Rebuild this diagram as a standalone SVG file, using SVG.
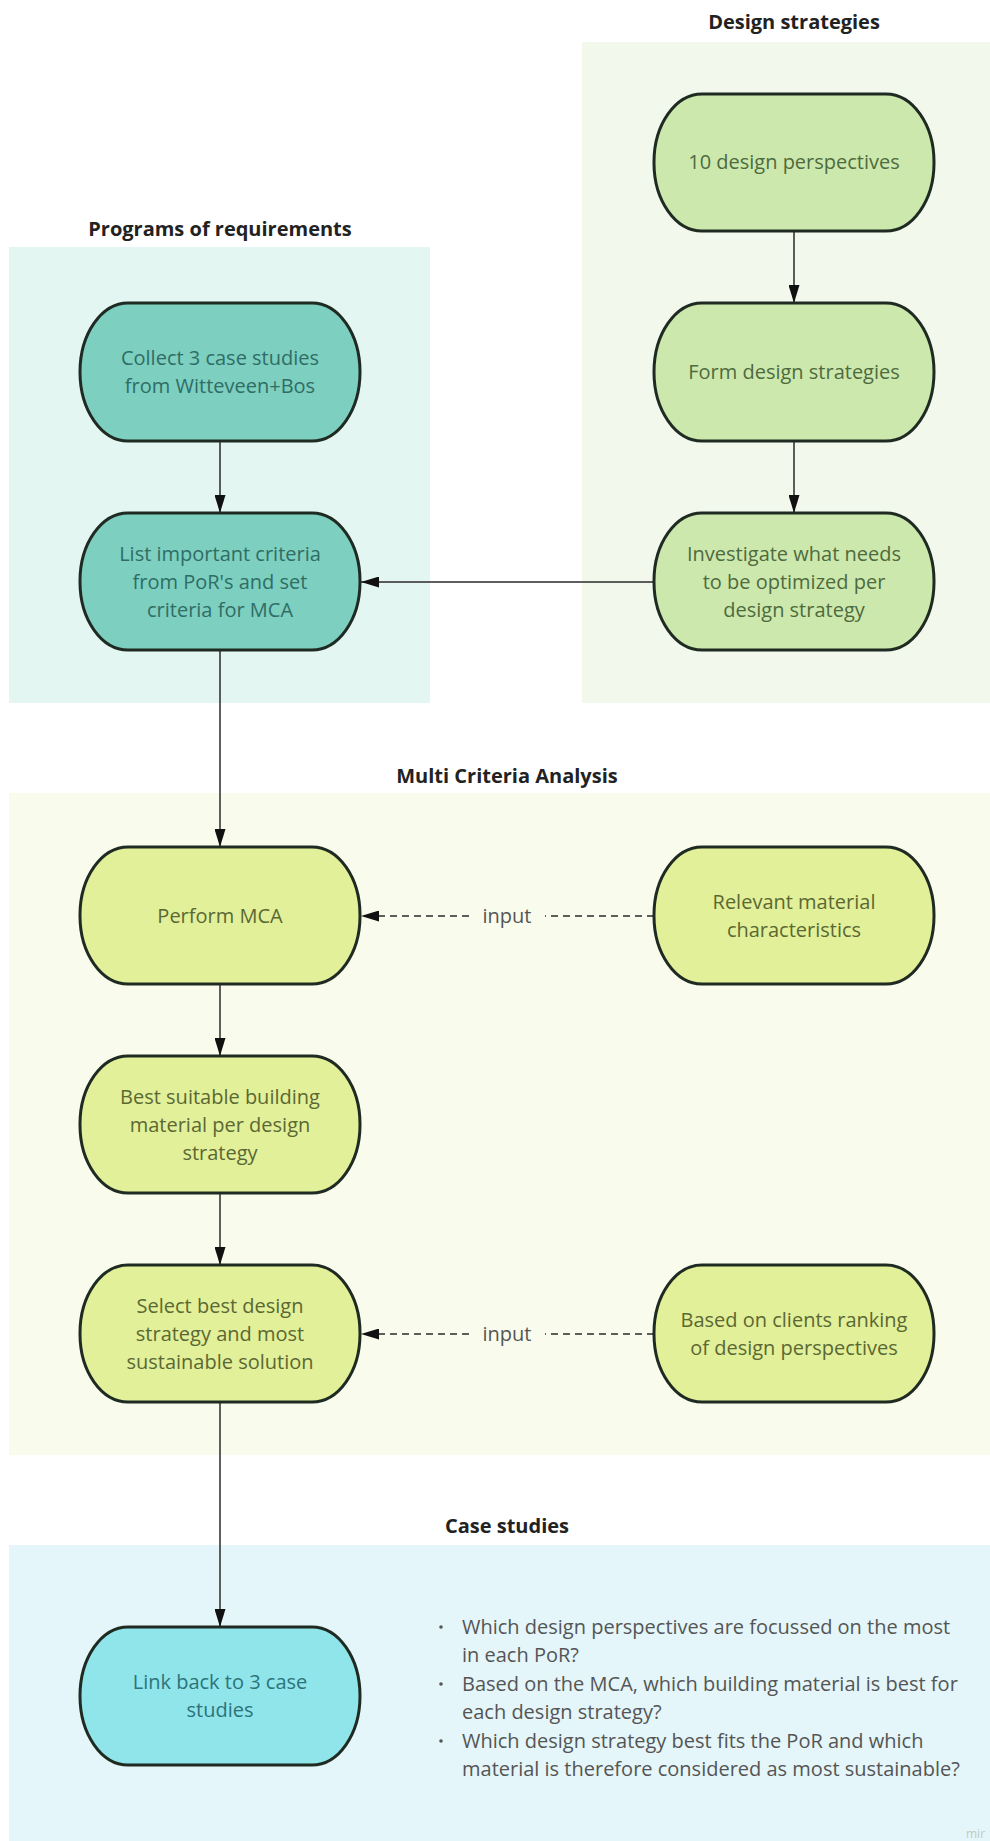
<svg xmlns="http://www.w3.org/2000/svg" width="990" height="1841" viewBox="0 0 990 1841">
<defs>
<style>
.title{font-family:"Open Sans","Liberation Sans",sans-serif;font-weight:bold;font-size:20px;fill:#222;text-anchor:middle}
.nt{font-family:"Open Sans","Liberation Sans",sans-serif;font-size:20px;text-anchor:middle}
.node{stroke:#1f2b22;stroke-width:3}
.teal{fill:#7dcfc0}.tealt{fill:#2f6d65}
.grn{fill:#cde8ad}.grnt{fill:#4d6b3e}
.yel{fill:#e2f099}.yelt{fill:#5b6833}
.cyan{fill:#8fe5e9}.cyant{fill:#2d7379}
.edge{stroke:#2a2a2a;stroke-width:1.5;fill:none}
.dash{stroke-dasharray:7 5}
.lbl{font-family:"Open Sans","Liberation Sans",sans-serif;font-size:20px;fill:#555;text-anchor:middle}
.bul{font-family:"Open Sans","Liberation Sans",sans-serif;font-size:20px;fill:#555}
</style>
<marker id="ah" viewBox="0 0 18 11" refX="18" refY="5.5" markerWidth="18" markerHeight="11" markerUnits="userSpaceOnUse" orient="auto">
<path d="M0,0 L18,5.5 L0,11 z" fill="#111"/>
</marker>
</defs>
<rect width="990" height="1841" fill="#ffffff"/>

<g id="panels">
<rect x="9" y="247" width="421" height="456" fill="#e3f6f2"/>
<rect x="582" y="42" width="408" height="661" fill="#f2f8ec"/>
<rect x="9" y="793" width="981" height="662" fill="#f9fcec"/>
<rect x="9" y="1545" width="981" height="296" fill="#e4f6f9"/>
</g>

<g id="titles">
<text class="title" x="794" y="29">Design strategies</text>
<text class="title" x="220" y="236">Programs of requirements</text>
<text class="title" x="507" y="783">Multi Criteria Analysis</text>
<text class="title" x="507" y="1533">Case studies</text>
</g>

<g id="connectors">
<line class="edge" x1="794" y1="231" x2="794" y2="303" marker-end="url(#ah)"/>
<line class="edge" x1="794" y1="441" x2="794" y2="513" marker-end="url(#ah)"/>
<line class="edge" x1="220" y1="441" x2="220" y2="513" marker-end="url(#ah)"/>
<line class="edge" x1="654" y1="582" x2="361" y2="582" marker-end="url(#ah)"/>
<line class="edge" x1="220" y1="650" x2="220" y2="847" marker-end="url(#ah)"/>
<line class="edge" x1="220" y1="984" x2="220" y2="1056" marker-end="url(#ah)"/>
<line class="edge" x1="220" y1="1193" x2="220" y2="1265" marker-end="url(#ah)"/>
<line class="edge" x1="220" y1="1402" x2="220" y2="1627" marker-end="url(#ah)"/>
<line class="edge dash" x1="654" y1="916" x2="545" y2="916"/>
<line class="edge dash" x1="469" y1="916" x2="361" y2="916" marker-end="url(#ah)"/>
<text class="lbl" x="507" y="923">input</text>
<line class="edge dash" x1="654" y1="1334" x2="545" y2="1334"/>
<line class="edge dash" x1="469" y1="1334" x2="361" y2="1334" marker-end="url(#ah)"/>
<text class="lbl" x="507" y="1341">input</text>
</g>

<g id="n-perspectives">
<rect class="node grn" x="654" y="94" width="280" height="137" rx="48" ry="68"/>
<text class="nt grnt" x="794" y="169">10 design perspectives</text>
</g>
<g id="n-form">
<rect class="node grn" x="654" y="303" width="280" height="138" rx="48" ry="69"/>
<text class="nt grnt" x="794" y="379">Form design strategies</text>
</g>
<g id="n-investigate">
<rect class="node grn" x="654" y="513" width="280" height="137" rx="48" ry="68"/>
<text class="nt grnt" x="794" y="561">Investigate what needs</text>
<text class="nt grnt" x="794" y="589">to be optimized per</text>
<text class="nt grnt" x="794" y="617">design strategy</text>
</g>
<g id="n-collect">
<rect class="node teal" x="80" y="303" width="280" height="138" rx="48" ry="69"/>
<text class="nt tealt" x="220" y="365">Collect 3 case studies</text>
<text class="nt tealt" x="220" y="393">from Witteveen+Bos</text>
</g>
<g id="n-list">
<rect class="node teal" x="80" y="513" width="280" height="137" rx="48" ry="68"/>
<text class="nt tealt" x="220" y="561">List important criteria</text>
<text class="nt tealt" x="220" y="589">from PoR's and set</text>
<text class="nt tealt" x="220" y="617">criteria for MCA</text>
</g>
<g id="n-perform">
<rect class="node yel" x="80" y="847" width="280" height="137" rx="48" ry="68"/>
<text class="nt yelt" x="220" y="923">Perform MCA</text>
</g>
<g id="n-relevant">
<rect class="node yel" x="654" y="847" width="280" height="137" rx="48" ry="68"/>
<text class="nt yelt" x="794" y="909">Relevant material</text>
<text class="nt yelt" x="794" y="937">characteristics</text>
</g>
<g id="n-best">
<rect class="node yel" x="80" y="1056" width="280" height="137" rx="48" ry="68"/>
<text class="nt yelt" x="220" y="1104">Best suitable building</text>
<text class="nt yelt" x="220" y="1132">material per design</text>
<text class="nt yelt" x="220" y="1160">strategy</text>
</g>
<g id="n-select">
<rect class="node yel" x="80" y="1265" width="280" height="137" rx="48" ry="68"/>
<text class="nt yelt" x="220" y="1313">Select best design</text>
<text class="nt yelt" x="220" y="1341">strategy and most</text>
<text class="nt yelt" x="220" y="1369">sustainable solution</text>
</g>
<g id="n-based">
<rect class="node yel" x="654" y="1265" width="280" height="137" rx="48" ry="68"/>
<text class="nt yelt" x="794" y="1327">Based on clients ranking</text>
<text class="nt yelt" x="794" y="1355">of design perspectives</text>
</g>
<g id="n-link">
<rect class="node cyan" x="80" y="1627" width="280" height="138" rx="48" ry="69"/>
<text class="nt cyant" x="220" y="1689">Link back to 3 case</text>
<text class="nt cyant" x="220" y="1717">studies</text>
</g>

<g id="questions">
<circle cx="441" cy="1627" r="1.8" fill="#555"/>
<circle cx="441" cy="1684" r="1.8" fill="#555"/>
<circle cx="441" cy="1741" r="1.8" fill="#555"/>
<text class="bul" x="462" y="1634">Which design perspectives are focussed on the most</text>
<text class="bul" x="462" y="1662">in each PoR?</text>
<text class="bul" x="462" y="1691">Based on the MCA, which building material is best for</text>
<text class="bul" x="462" y="1719">each design strategy?</text>
<text class="bul" x="462" y="1748">Which design strategy best fits the PoR and which</text>
<text class="bul" x="462" y="1776">material is therefore considered as most sustainable?</text>
</g>

<text x="966" y="1838" font-family="Open Sans, Liberation Sans, sans-serif" font-size="12" fill="#c4c8c8">mir</text>
</svg>
